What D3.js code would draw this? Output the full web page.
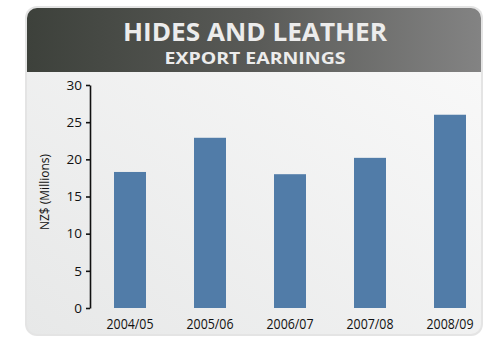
<!DOCTYPE html>
<html>
<head>
<meta charset="utf-8">
<script src="https://cdn.jsdelivr.net/npm/d3@7"></script>
<style>
  html, body { margin: 0; padding: 0; background: #ffffff; }
  svg { display: block; }
  text { font-family: "Open Sans", "Noto Sans", sans-serif; }
</style>
</head>
<body>
<svg id="chart" width="488" height="342"></svg>
<script>
// Hides and leather export earnings, NZ$ millions
const seasons = ["2004/05", "2005/06", "2006/07", "2007/08", "2008/09"];
const earnings = [18.3, 22.9, 18.0, 20.2, 26.0];
const yTicks = [0, 5, 10, 15, 20, 25, 30];
const titleLines = ["HIDES AND LEATHER", "EXPORT EARNINGS"];
const yAxisTitle = "NZ$ (Millions)";

const svg = d3.select("#chart");
const defs = svg.append("defs");

// Panel geometry
const panel = { x: 25, y: 6, w: 458, h: 330, r: 12 };
const headerH = 66;

const bodyGrad = defs.append("linearGradient")
  .attr("id", "bodyGrad").attr("x1", "0%").attr("y1", "100%").attr("x2", "100%").attr("y2", "0%");
bodyGrad.append("stop").attr("offset", "0%").attr("stop-color", "#e7e8e8");
bodyGrad.append("stop").attr("offset", "100%").attr("stop-color", "#fafafa");

const headGrad = defs.append("linearGradient")
  .attr("id", "headGrad").attr("x1", "0%").attr("y1", "0%").attr("x2", "100%").attr("y2", "0%");
headGrad.append("stop").attr("offset", "0%").attr("stop-color", "#3d413b");
headGrad.append("stop").attr("offset", "50%").attr("stop-color", "#595a57");
headGrad.append("stop").attr("offset", "100%").attr("stop-color", "#838383");

defs.append("clipPath").attr("id", "panelClip")
  .append("rect")
  .attr("x", panel.x + 2).attr("y", panel.y + 2)
  .attr("width", panel.w - 4).attr("height", panel.h - 4)
  .attr("rx", panel.r - 2);

// Outer frame and body
svg.append("rect")
  .attr("x", panel.x).attr("y", panel.y)
  .attr("width", panel.w).attr("height", panel.h)
  .attr("rx", panel.r)
  .attr("fill", "#e4e4e4");

svg.append("rect")
  .attr("x", panel.x + 2).attr("y", panel.y + 2)
  .attr("width", panel.w - 4).attr("height", panel.h - 4)
  .attr("rx", panel.r - 2)
  .attr("fill", "url(#bodyGrad)");

// Header band
svg.append("rect")
  .attr("clip-path", "url(#panelClip)")
  .attr("x", panel.x + 2).attr("y", panel.y + 2)
  .attr("width", panel.w - 4).attr("height", headerH - 2)
  .attr("fill", "url(#headGrad)");

// Two-line heading
const titleX = 255;
svg.append("text")
  .attr("x", titleX).attr("y", 40.5)
  .attr("text-anchor", "middle")
  .attr("fill", "#ececec")
  .attr("font-weight", 700)
  .attr("font-size", 25)
  .attr("textLength", 264).attr("lengthAdjust", "spacingAndGlyphs")
  .text(titleLines[0]);
svg.append("text")
  .attr("x", titleX).attr("y", 63.5)
  .attr("text-anchor", "middle")
  .attr("fill", "#ececec")
  .attr("font-weight", 700)
  .attr("font-size", 16.5)
  .attr("textLength", 181).attr("lengthAdjust", "spacingAndGlyphs")
  .text(titleLines[1]);

// Scales
const x = d3.scaleBand()
  .domain(seasons)
  .range([90, 490])
  .paddingInner(0.6)
  .paddingOuter(0.3);

const y = d3.scaleLinear()
  .domain([0, 30])
  .range([308, 85]);

// Bars
svg.append("g")
  .selectAll("rect")
  .data(seasons.map((s, i) => ({ s, v: earnings[i] })))
  .join("rect")
  .attr("x", d => x(d.s))
  .attr("y", d => y(d.v))
  .attr("width", x.bandwidth())
  .attr("height", d => y(0) - y(d.v))
  .attr("fill", "#517ca8");

// Y axis
const yAxis = svg.append("g")
  .attr("transform", "translate(90,0)")
  .call(d3.axisLeft(y).tickValues(yTicks).tickSize(4).tickPadding(4).tickSizeOuter(0));
yAxis.select(".domain").attr("stroke", "#111").attr("stroke-width", 1.6);
yAxis.selectAll(".tick line").attr("stroke", "#111").attr("stroke-width", 1.6);
yAxis.selectAll(".tick text")
  .attr("fill", "#111")
  .attr("font-size", 13.5)
  .attr("font-family", "'Open Sans', sans-serif");

// X labels
const xAxis = svg.append("g")
  .attr("transform", "translate(0,308)")
  .call(d3.axisBottom(x).tickSize(0).tickPadding(11));
xAxis.select(".domain").remove();
xAxis.selectAll(".tick text")
  .attr("fill", "#111")
  .attr("font-size", 14)
  .attr("font-family", "'Open Sans', sans-serif")
  .attr("textLength", 47).attr("lengthAdjust", "spacingAndGlyphs");

// Y axis title
svg.append("text")
  .attr("transform", "translate(49,192) rotate(-90)")
  .attr("text-anchor", "middle")
  .attr("fill", "#111")
  .attr("font-size", 13.5)
  .attr("textLength", 76).attr("lengthAdjust", "spacingAndGlyphs")
  .text(yAxisTitle);
</script>
</body>
</html>
